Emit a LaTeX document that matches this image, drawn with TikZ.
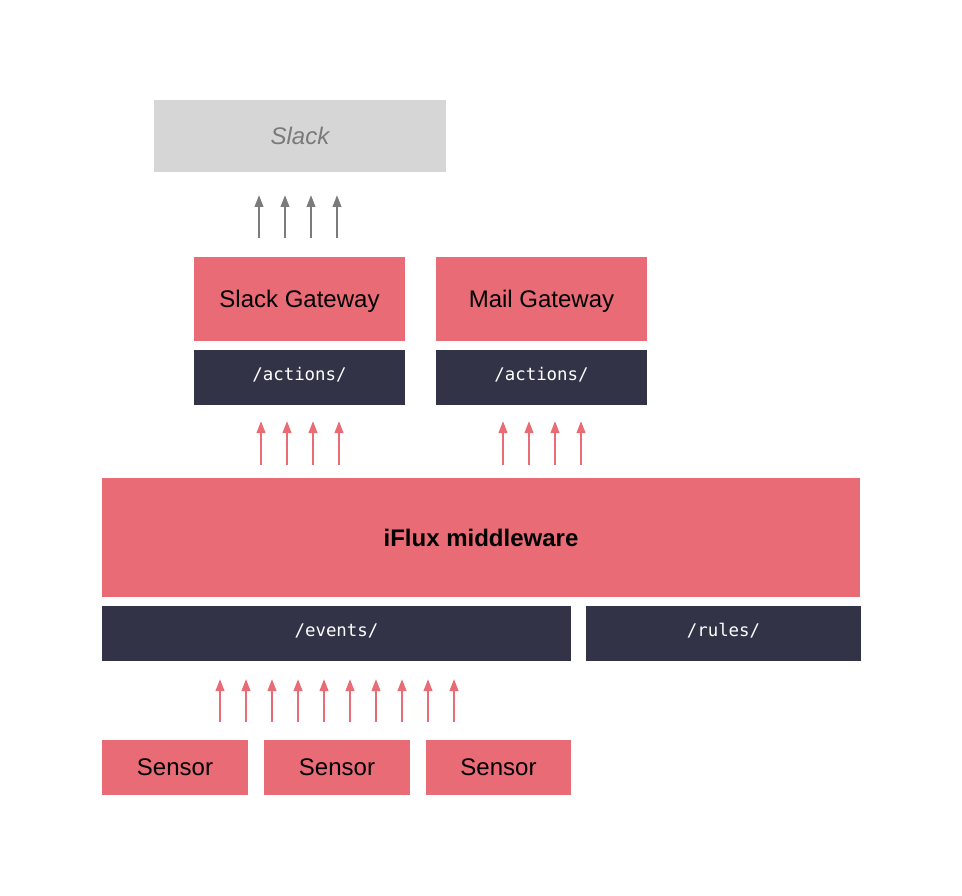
\documentclass[tikz,border=0pt]{standalone}
\usepackage{fontspec}
\setmainfont{Liberation Sans}
\newfontfamily\codefont{DejaVu Sans Mono}
\usetikzlibrary{arrows.meta}
\definecolor{cred}{HTML}{E86B75}
\definecolor{cdark}{HTML}{333348}
\definecolor{cgraybox}{HTML}{D6D6D6}
\definecolor{cgraytext}{HTML}{7A7A7A}
\definecolor{carrgray}{HTML}{7B7B7B}
\tikzset{
  box/.style={inner sep=0pt, outer sep=0pt, anchor=center, font=\fontsize{24}{28}\selectfont},
  redbox/.style={box, fill=cred, text=black, text depth=-3pt},
  darkbox/.style={box, fill=cdark, text=white, font=\codefont\fontsize{17.4}{20}\selectfont, text depth=7pt},
  graybox/.style={box, fill=cgraybox, text=cgraytext, font=\fontsize{24}{28}\selectfont\itshape},
  redarrow/.style={draw=cred, line width=2.2pt, -{Triangle[width=8.5pt,length=12pt]}},
  grayarrow/.style={draw=carrgray, line width=2.2pt, -{Triangle[width=8.5pt,length=12pt]}}
}
\begin{document}
\begin{tikzpicture}[x=1pt,y=-1pt]
\useasboundingbox (0,0) rectangle (962,896);
\fill[white] (0,0) rectangle (962,896);
% Slack
\node[graybox, minimum width=292pt, minimum height=72pt] (slack) at (300,136) {Slack};
% Gateways
\node[redbox, minimum width=211pt, minimum height=84pt] (sgw) at (299.5,299) {Slack Gateway};
\node[darkbox, minimum width=211pt, minimum height=55pt] (sact) at (299.5,377.5) {/actions/};
\node[redbox, minimum width=211pt, minimum height=84pt] (mgw) at (541.5,299) {Mail Gateway};
\node[darkbox, minimum width=211pt, minimum height=55pt] (mact) at (541.5,377.5) {/actions/};
% middleware
\node[redbox, minimum width=758pt, minimum height=119pt, font=\fontsize{24}{28}\selectfont\bfseries] (mid) at (481,537.5) {iFlux middleware};
\node[darkbox, minimum width=469pt, minimum height=55pt] (events) at (336.5,633.5) {/events/};
\node[darkbox, minimum width=275pt, minimum height=55pt] (rules) at (723.5,633.5) {/rules/};
% sensors
\node[redbox, minimum width=146pt, minimum height=55pt] (s1) at (175,767.5) {Sensor};
\node[redbox, minimum width=146pt, minimum height=55pt] (s2) at (337,767.5) {Sensor};
\node[redbox, minimum width=145pt, minimum height=55pt] (s3) at (498.5,767.5) {Sensor};
% gray arrows gateway -> slack
\foreach \x [count=\i] in {259,285,311,337} {
  \coordinate (ga\i) at (\x,238);
  \coordinate (gb\i) at (\x,195);
  \draw[grayarrow] (ga\i) -- (gb\i);
}
% red arrows middleware -> actions
\foreach \x [count=\i] in {261,287,313,339,503,529,555,581} {
  \coordinate (ra\i) at (\x,465);
  \coordinate (rb\i) at (\x,421);
  \draw[redarrow] (ra\i) -- (rb\i);
}
% red arrows sensors -> events
\foreach \x [count=\i] in {220,246,272,298,324,350,376,402,428,454} {
  \coordinate (sa\i) at (\x,722);
  \coordinate (sb\i) at (\x,679);
  \draw[redarrow] (sa\i) -- (sb\i);
}
\end{tikzpicture}
\end{document}
